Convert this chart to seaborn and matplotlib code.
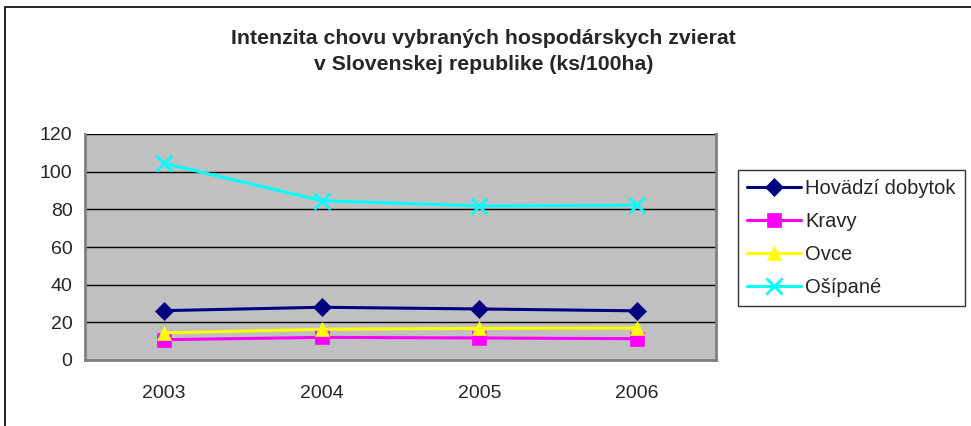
import pandas as pd
import seaborn as sns
import matplotlib.pyplot as plt
from matplotlib.patches import Rectangle

# data
years = ['2003', '2004', '2005', '2006']
hovadzi = [26.2, 28.0, 27.1, 26.1]
kravy = [10.8, 12.0, 11.7, 11.3]
ovce = [14.4, 16.3, 16.8, 17.0]
osipane = [104.5, 84.6, 81.8, 82.2]

series_names = ['Hovädzí dobytok', 'Kravy', 'Ovce', 'Ošípané']
series_vals = [hovadzi, kravy, ovce, osipane]
colors = ['#000080', '#FF00FF', '#FFFF00', '#00FFFF']
marks = ['D', 's', '^', 'x']

sns.set_style('white')
plt.rcParams['font.family'] = ['Liberation Sans', 'DejaVu Sans']

fig = plt.figure(figsize=(9.71, 4.26), dpi=100)
ax = fig.add_axes([85 / 971, (426 - 360) / 426, (716 - 85) / 971, (360 - 134) / 426])
ax.set_facecolor('#C0C0C0')

# one call per series, filled and line-art markers can't be mixed in one lineplot
for name, vals, col, mk in zip(series_names, series_vals, colors, marks):
    d = pd.DataFrame({'rok': range(len(years)), 'hodnota': vals})
    sns.lineplot(data=d, x='rok', y='hodnota', color=col, marker=mk, linewidth=2.2,
                 markersize=9.5 if mk != 'x' else 11, markeredgewidth=2 if mk == 'x' else 0.5,
                 markeredgecolor=col, label=name, ax=ax, zorder=3)

ax.set_xlim(-0.5, 3.5)
ax.set_ylim(0, 120)
ax.set_yticks(range(0, 121, 20))
ax.set_xticks(range(len(years)))
ax.set_xticklabels(years)
ax.set_xticks([-0.5, 0.5, 1.5, 2.5, 3.5], minor=True)
ax.tick_params(axis='x', which='major', length=0, pad=18, labelsize=14)
ax.tick_params(axis='x', which='minor', length=8, width=1, color='#606060', direction='out')
ax.tick_params(axis='y', length=5, width=1, color='#606060', direction='out', labelsize=14, pad=4)
ax.yaxis.grid(True, color='black', linewidth=1)
ax.set_axisbelow(True)
ax.set_xlabel('')
ax.set_ylabel('')
for side in ['left', 'bottom', 'right']:
    ax.spines[side].set_color('#808080')
    ax.spines[side].set_linewidth(2)
ax.spines['top'].set_visible(False)

handles, labels = ax.get_legend_handles_labels()
leg = ax.legend(handles, labels, loc='upper left', bbox_to_anchor=(738 / 971, (426 - 170) / 426),
                bbox_transform=fig.transFigure, frameon=True, fontsize=14.5, fancybox=False,
                borderpad=0.45, labelspacing=0.7, handlelength=2.7, handletextpad=0.2,
                borderaxespad=0)
leg.get_frame().set_edgecolor('black')
leg.get_frame().set_linewidth(1)

fig.text(0.498, 1 - 38 / 426, 'Intenzita chovu vybraných hospodárskych zvierat',
         ha='center', va='center', fontsize=15.3, fontweight='bold')
fig.text(0.498, 1 - 65 / 426, 'v Slovenskej republike (ks/100ha)',
         ha='center', va='center', fontsize=15.3, fontweight='bold')

# chart area border
fig.patches.append(Rectangle((5 / 971, -0.05), 1.2, 1 - 7 / 426 + 0.05, transform=fig.transFigure,
                             fill=False, edgecolor='black', linewidth=1.2))

plt.savefig('out.png', dpi=100)
